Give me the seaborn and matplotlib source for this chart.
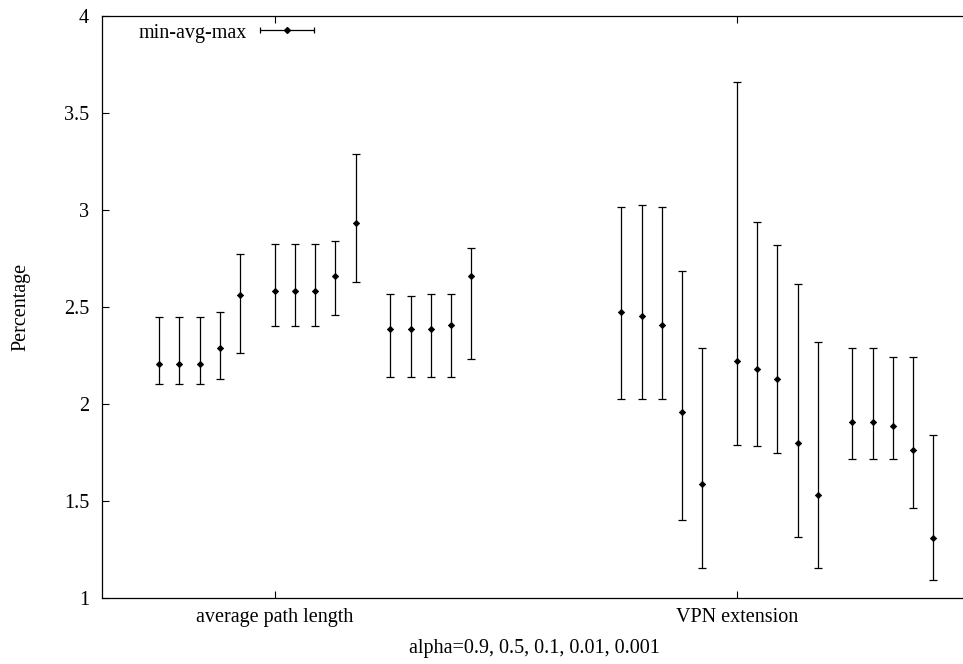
import numpy as np
import pandas as pd
import matplotlib
matplotlib.use("Agg")
import matplotlib.pyplot as plt
import seaborn as sns
from matplotlib.lines import Line2D
from matplotlib.collections import LineCollection
from matplotlib.container import ErrorbarContainer
from matplotlib.legend_handler import HandlerErrorbar

# Metrics on the x axis
metrics = ["average path length", "VPN extension"]
alphas = ["0.9", "0.5", "0.1", "0.01", "0.001"]

# Three runs per metric, five alpha values per run (min / avg / max)
apl_min = [2.103, 2.103, 2.103, 2.131, 2.261,
           2.404, 2.404, 2.404, 2.457, 2.627,
           2.138, 2.138, 2.138, 2.138, 2.234]
apl_avg = [2.205, 2.205, 2.205, 2.290, 2.562,
           2.581, 2.581, 2.581, 2.662, 2.931,
           2.385, 2.385, 2.385, 2.407, 2.658]
apl_max = [2.448, 2.448, 2.448, 2.474, 2.773,
           2.823, 2.823, 2.823, 2.839, 3.290,
           2.567, 2.555, 2.567, 2.567, 2.803]

vpn_min = [2.026, 2.026, 2.026, 1.400, 1.157,
           1.791, 1.781, 1.750, 1.312, 1.154,
           1.719, 1.719, 1.719, 1.464, 1.091]
vpn_avg = [2.475, 2.455, 2.407, 1.960, 1.590,
           2.221, 2.182, 2.129, 1.798, 1.529,
           1.908, 1.908, 1.888, 1.765, 1.308]
vpn_max = [3.017, 3.028, 3.017, 2.683, 2.291,
           3.661, 2.939, 2.818, 2.619, 2.321,
           2.289, 2.289, 2.240, 2.240, 1.838]

runs = 3
run_spacing = 0.25
alpha_step = 0.04375

rows = []
for m_idx, (mins, avgs, maxs) in enumerate([(apl_min, apl_avg, apl_max),
                                             (vpn_min, vpn_avg, vpn_max)]):
    for k in range(runs * len(alphas)):
        run, a = divmod(k, len(alphas))
        rows.append({
            "metric": metrics[m_idx],
            "run": run,
            "alpha": alphas[a],
            "x": m_idx + (run - 1) * run_spacing + a * alpha_step,
            "min": mins[k], "avg": avgs[k], "max": maxs[k],
        })
df = pd.DataFrame(rows)

sns.set_theme(style="ticks")
plt.rcParams["font.family"] = ["Liberation Serif", "DejaVu Serif"]
plt.rcParams["text.color"] = "black"
plt.rcParams["axes.labelcolor"] = "black"

W, H = 963, 664
fig = plt.figure(figsize=(W / 100, H / 100), dpi=100)
left_px, right_px, top_px, bottom_px = 101.5, 968.0, 16.0, 598.0
ax = fig.add_axes([left_px / W, 1 - bottom_px / H,
                   (right_px - left_px) / W, (bottom_px - top_px) / H])

fs = 14.5
lw = 0.9

# min-max ranges
ax.errorbar(df["x"], df["avg"],
            yerr=[df["avg"] - df["min"], df["max"] - df["avg"]],
            fmt="none", ecolor="black", elinewidth=lw, capsize=3.0,
            capthick=lw, zorder=2)
# averages
sns.scatterplot(data=df, x="x", y="avg", marker="D", s=10, color="black",
                edgecolor="black", linewidth=0.6, ax=ax, zorder=3,
                legend=False)

ax.set_xlim(-0.375, 1.5)
ax.set_ylim(1, 4)
ax.set_xticks(range(len(metrics)))
ax.set_xticklabels(metrics)
ax.set_yticks(np.arange(1, 4.01, 0.5))
ax.set_yticklabels(["1", "1.5", "2", "2.5", "3", "3.5", "4"])

ax.tick_params(axis="both", direction="in", length=5, width=0.8,
               labelsize=fs, color="black", labelcolor="black")
ax.tick_params(axis="x", top=True, pad=7)
ax.tick_params(axis="y", right=False, pad=9)
for side in ["left", "right", "top", "bottom"]:
    ax.spines[side].set_visible(True)
    ax.spines[side].set_color("black")
    ax.spines[side].set_linewidth(0.9)

ax.set_xlabel("alpha=0.9, 0.5, 0.1, 0.01, 0.001", fontsize=fs, labelpad=9,
              color="black")
ax.set_ylabel("Percentage", fontsize=fs, labelpad=24, color="black")

# key entry: horizontal min-avg-max sample
marker_line = Line2D([], [], marker="D", markersize=3.0, color="black",
                     linestyle="none")
cap_line = Line2D([], [], marker="|", markersize=5, color="black",
                  markeredgewidth=lw)
bar_coll = LineCollection([], colors="black", linewidths=lw)
key = ErrorbarContainer((marker_line, (cap_line, cap_line), (bar_coll,)),
                        has_xerr=True, has_yerr=False, label="min-avg-max")
hl = 2.7
leg = ax.legend(handles=[key], loc="center left",
                bbox_to_anchor=(139 / W, 1 - 33 / H),
                bbox_transform=fig.transFigure, frameon=False, fontsize=fs,
                markerfirst=False, handlelength=hl, handletextpad=0.62,
                borderpad=0, borderaxespad=0, labelcolor="black",
                handler_map={ErrorbarContainer: HandlerErrorbar(xerr_size=hl / 2)})

fig.savefig("out.png", dpi=100)
